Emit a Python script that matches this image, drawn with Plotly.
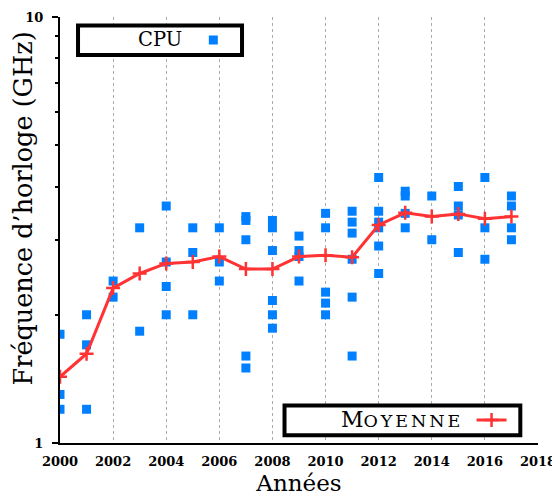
import plotly.graph_objects as go

years = list(range(2000, 2018))
cpu_values = [
    [1.80, 1.30, 1.20],
    [2.00, 1.70, 1.20],
    [2.40, 2.20],
    [3.20, 1.83],
    [3.60, 2.66, 2.33, 2.00],
    [3.20, 2.80, 2.00],
    [3.20, 2.66, 2.40],
    [3.40, 3.33, 3.00, 1.60, 1.50],
    [3.33, 3.20, 2.83, 2.16, 2.00, 1.86],
    [3.06, 2.83, 2.74, 2.40],
    [3.46, 3.20, 2.26, 2.13, 2.00],
    [3.50, 3.30, 3.11, 2.70, 2.20, 1.60],
    [4.20, 3.50, 3.30, 3.20, 2.90, 2.50],
    [3.90, 3.80, 3.46, 3.20],
    [3.80, 3.00],
    [4.00, 3.60, 3.43, 2.80],
    [4.20, 3.20, 2.70],
    [3.80, 3.60, 3.20, 3.00],
]
mean_values = [1.43, 1.62, 2.31, 2.50, 2.64, 2.66, 2.74, 2.56, 2.56,
               2.74, 2.76, 2.73, 3.25, 3.47, 3.40, 3.45, 3.36, 3.40]

xs, ys = [], []
for y, vals in zip(years, cpu_values):
    for v in vals:
        xs.append(y)
        ys.append(v)

SERIF = "DejaVu Serif"
NB = "\u00a0"
SP = "\u2006"

fig = go.Figure()
fig.add_trace(go.Scatter(
    x=xs, y=ys, mode="markers", name=NB,
    marker=dict(symbol="square", size=9, color="#0080ff"),
    legend="legend",
))
fig.add_trace(go.Scatter(
    x=years, y=mean_values, mode="lines+markers", name=NB,
    line=dict(color="#ff3333", width=3),
    marker=dict(symbol="cross-thin", size=10, line=dict(color="#ff3333", width=2.5)),
    legend="legend2",
))

legend_common = dict(bgcolor="rgba(0,0,0,0)", borderwidth=0, font=dict(size=10),
                     xanchor="left", yanchor="middle")

fig.update_layout(
    width=552, height=492,
    margin=dict(l=52, r=22, t=9, b=57, autoexpand=False),
    paper_bgcolor="white", plot_bgcolor="white",
    font=dict(family=SERIF, color="black"),
    showlegend=True,
    legend=dict(x=0.2789, y=0.946, **legend_common),
    legend2=dict(x=0.8610, y=0.054, **legend_common),
    shapes=[
        dict(type="rect", xref="paper", yref="paper", layer="above",
             x0=0.0377, x1=0.3808, y0=0.9108, y1=0.9800,
             fillcolor="white", line=dict(color="black", width=4)),
        dict(type="rect", xref="paper", yref="paper", layer="above",
             x0=0.4697, x1=0.9630, y0=0.0181, y1=0.0880,
             fillcolor="white", line=dict(color="black", width=4)),
    ],
    annotations=[
        dict(text="CPU", xref="paper", yref="paper", x=0.2092, y=0.9472,
             xanchor="center", yanchor="middle", showarrow=False,
             font=dict(family=SERIF, size=19.5)),
        dict(text="M<span style='font-size:17.5px'>" + SP.join("OYENNE") + "</span>",
             xref="paper", yref="paper", x=0.7113, y=0.0556,
             xanchor="center", yanchor="middle", showarrow=False,
             font=dict(family=SERIF, size=22)),
        dict(text="Fréquence d’horloge (GHz)", xref="paper", yref="paper",
             x=-0.0774, y=0.5505, xanchor="center", yanchor="middle",
             textangle=-90, showarrow=False, font=dict(family=SERIF, size=25.5)),
    ],
)

fig.update_xaxes(
    range=[2000, 2018], dtick=2, tick0=2000, automargin=False,
    showline=True, linecolor="black", linewidth=2,
    showgrid=True, gridcolor="#aaaaaa", griddash="dot", gridwidth=1,
    ticks="", ticklabelstandoff=5,
    tickfont=dict(family=SERIF, size=13, weight="bold"),
    title=dict(text="Années", font=dict(family=SERIF, size=23), standoff=7),
    zeroline=False,
)
fig.update_yaxes(
    type="log", range=[0, 1], automargin=False,
    tickvals=[1, 10], ticktext=["1", "10"],
    showline=True, linecolor="black", linewidth=2,
    showgrid=True, gridcolor="#aaaaaa", griddash="dot", gridwidth=1,
    ticks="outside", ticklen=6, tickwidth=1.5, tickcolor="black",
    ticklabelstandoff=6,
    minor=dict(tickvals=[2, 3, 4, 5, 6, 7, 8, 9], ticks="outside",
               ticklen=3, tickwidth=1.5, tickcolor="black", showgrid=False),
    tickfont=dict(family=SERIF, size=13, weight="bold"),
    zeroline=False,
)

fig.write_html("out.html")
